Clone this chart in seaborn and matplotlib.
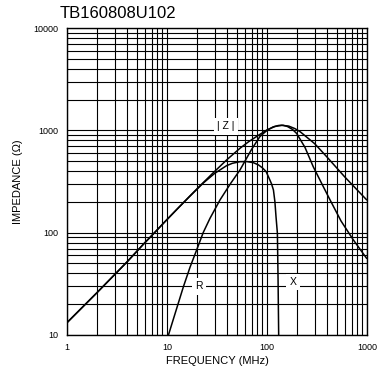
import matplotlib
matplotlib.use("Agg")
import matplotlib.pyplot as plt
import seaborn as sns
import numpy as np
import pandas as pd

# values (frequency in MHz, impedance in ohm)
z_freq = [1, 2, 3, 4, 5.8, 7.5, 9.9, 13, 16.7, 21, 29, 40, 53.7, 65, 80, 100, 120, 140,
          165, 190, 214, 300, 395, 600, 993]
z_val = [13.2, 26, 39, 52, 77, 100, 133, 175, 225, 282, 385, 520, 668, 770, 880, 1010,
         1090, 1120, 1100, 1040, 971, 740, 553, 350, 209]

r_freq = [10.0, 12, 14.6, 17, 19.8, 23, 26.9, 33.9, 43, 53.7, 70, 85, 100, 115, 130, 145,
          160, 180, 198, 240, 290, 360, 427, 550, 730, 993]
r_val = [9.0, 16, 29.7, 46, 67.8, 100, 138, 209, 300, 410, 650, 870, 1000, 1080, 1115, 1120,
         1090, 1020, 932, 680, 441, 290, 209, 130, 85, 56]

x_freq = [1, 2, 3, 4, 5.8, 7.5, 9.9, 13, 16.7, 23, 30, 39.5, 45, 53.7, 63, 73, 82, 90, 98,
          105, 111, 116, 120, 123, 127, 129, 131]
x_val = [13.2, 26, 39, 52, 77, 100, 133, 175, 224, 305, 380, 452, 476, 494, 495, 483,
         460, 430, 395, 340, 300, 261, 200, 144, 99, 35, 9]

x_ticks = [1, 10, 100, 1000]
y_ticks = [10, 100, 1000, 10000]

sns.set_theme(style="white", rc={"text.color": "black", "axes.labelcolor": "black",
                                 "xtick.color": "black", "ytick.color": "black"})
plt.rcParams["font.family"] = ["Liberation Sans", "DejaVu Sans"]

df = pd.concat([
    pd.DataFrame({"freq": z_freq, "imp": z_val, "curve": "Z"}),
    pd.DataFrame({"freq": r_freq, "imp": r_val, "curve": "R"}),
    pd.DataFrame({"freq": x_freq, "imp": x_val, "curve": "X"}),
])

fig = plt.figure(figsize=(3.84, 3.74), dpi=100)
ax = fig.add_axes([67 / 384, 39 / 374, 300 / 384, 307 / 374])

ax.set_xscale("log")
ax.set_yscale("log")
ax.set_xlim(1, 1000)
ax.set_ylim(10, 10000)

sns.lineplot(data=df, x="freq", y="imp", units="curve", estimator=None,
             sort=False, color="black", linewidth=1.1, ax=ax)

for s in ax.spines.values():
    s.set_color("black")
    s.set_linewidth(1.0)

ax.set_xticks(x_ticks)
ax.set_xticklabels([str(t) for t in x_ticks])
ax.set_yticks(y_ticks)
ax.set_yticklabels([str(t) for t in y_ticks])
ax.xaxis.set_minor_locator(matplotlib.ticker.LogLocator(base=10, subs=np.arange(2, 10)))
ax.yaxis.set_minor_locator(matplotlib.ticker.LogLocator(base=10, subs=np.arange(2, 10)))
ax.xaxis.set_minor_formatter(matplotlib.ticker.NullFormatter())
ax.yaxis.set_minor_formatter(matplotlib.ticker.NullFormatter())
ax.grid(True, which="both", color="black", linewidth=0.8)
ax.set_axisbelow(True)
ax.tick_params(which="both", length=0, labelsize=6.5, pad=6)

ax.set_xlabel("FREQUENCY (MHz)", fontsize=8, labelpad=3)
ax.set_ylabel("IMPEDANCE (Ω)", fontsize=8, labelpad=8)

box = dict(facecolor="white", edgecolor="none", pad=2.5)
ax.text(39, 1100, "| Z |", fontsize=7.5, ha="center", va="center", bbox=box)
ax.text(21, 30, "R", fontsize=7.5, ha="center", va="center", bbox=box)
ax.text(182, 33, "X", fontsize=7.5, ha="center", va="center", bbox=box)

fig.text(60 / 384, 1 - 14 / 374, "TB160808U102", fontsize=12, ha="left", va="center")

fig.savefig("out.png", dpi=100)
